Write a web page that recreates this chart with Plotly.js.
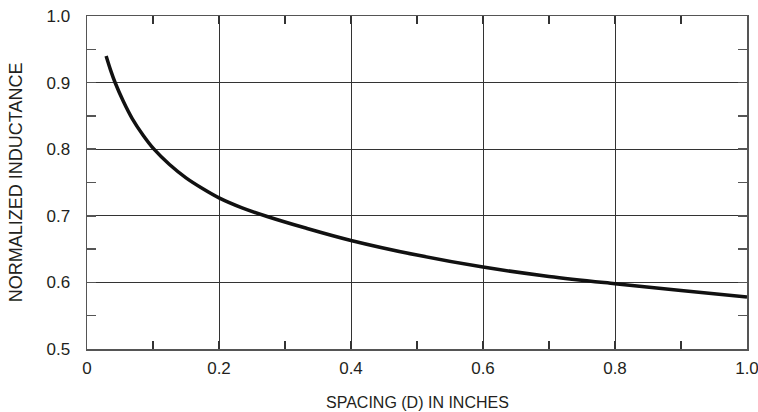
<!DOCTYPE html>
<html>
<head>
<meta charset="utf-8">
<script src="https://cdn.plot.ly/plotly-3.0.1.min.js"></script>
<style>html,body{margin:0;padding:0;background:#fff;}#chart{width:758px;height:412px;}</style>
</head>
<body>
<div id="chart"></div>
<script>
var spacing = [0.029, 0.036, 0.043, 0.055, 0.0685, 0.085, 0.1015, 0.125, 0.15, 0.175, 0.2, 0.235, 0.273, 0.33, 0.4, 0.5, 0.6, 0.7, 0.8, 0.9, 1.0];
var inductance = [0.94, 0.918, 0.899, 0.872, 0.846, 0.821, 0.8, 0.777, 0.757, 0.741, 0.727, 0.712, 0.699, 0.682, 0.663, 0.641, 0.623, 0.609, 0.598, 0.588, 0.578];
var xTickVals = [0, 0.2, 0.4, 0.6, 0.8, 1.0];
var xTickText = ["0", "0.2", "0.4", "0.6", "0.8", "1.0"];
var yTickVals = [0.5, 0.6, 0.7, 0.8, 0.9, 1.0];
var yTickText = ["0.5", "0.6", "0.7", "0.8", "0.9", "1.0"];
var xTitle = 'SPACING (D) IN INCHES';
var yTitle = 'NORMALIZED INDUCTANCE';

var trace = {
  x: spacing, y: inductance, type: 'scatter', mode: 'lines',
  line: {color: '#111', width: 3.5, shape: 'spline', smoothing: 1},
  hoverinfo: 'skip', cliponaxis: true
};
var fontFam = 'Liberation Sans, Arial, sans-serif';
var layout = {
  width: 758, height: 412,
  margin: {l: 87, r: 11, t: 16, b: 63},
  paper_bgcolor: '#fff', plot_bgcolor: '#fff',
  showlegend: false,
  font: {family: fontFam, color: '#231f20', size: 17},
  xaxis: {
    range: [0, 1], tickvals: xTickVals, ticktext: xTickText,
    showgrid: true, gridcolor: '#333', gridwidth: 1,
    showline: true, linecolor: '#555', linewidth: 1.5, mirror: 'ticks',
    ticks: 'inside', ticklen: 0, zeroline: false,
    tickfont: {size: 17}, ticklabelstandoff: 3, ticklabeloverflow: 'allow',
    minor: {dtick: 0.1, tick0: 0, ticks: 'inside', ticklen: 8, tickcolor: '#333', tickwidth: 1.2, showgrid: false}
  },
  yaxis: {
    range: [0.5, 1.0], tickvals: yTickVals, ticktext: yTickText,
    showgrid: true, gridcolor: '#333', gridwidth: 1,
    showline: true, linecolor: '#555', linewidth: 1.5, mirror: 'ticks',
    ticks: 'inside', ticklen: 0, zeroline: false,
    tickfont: {size: 17}, ticklabelstandoff: 12, ticklabeloverflow: 'allow',
    minor: {dtick: 0.05, tick0: 0.5, ticks: 'inside', ticklen: 9, tickcolor: '#555', tickwidth: 1.5, showgrid: false}
  },
  annotations: [
    {text: xTitle, xref: 'paper', yref: 'paper', x: 0.5, y: -0.16, xanchor: 'center', yanchor: 'middle',
     showarrow: false, font: {size: 16, color: '#231f20'}},
    {text: yTitle, xref: 'paper', yref: 'paper', x: -0.108, y: 0.5, xanchor: 'center', yanchor: 'middle',
     textangle: -90, showarrow: false, font: {size: 18, color: '#231f20'}}
  ]
};
Plotly.newPlot('chart', [trace], layout, {displayModeBar: false, staticPlot: true});
</script>
</body>
</html>
